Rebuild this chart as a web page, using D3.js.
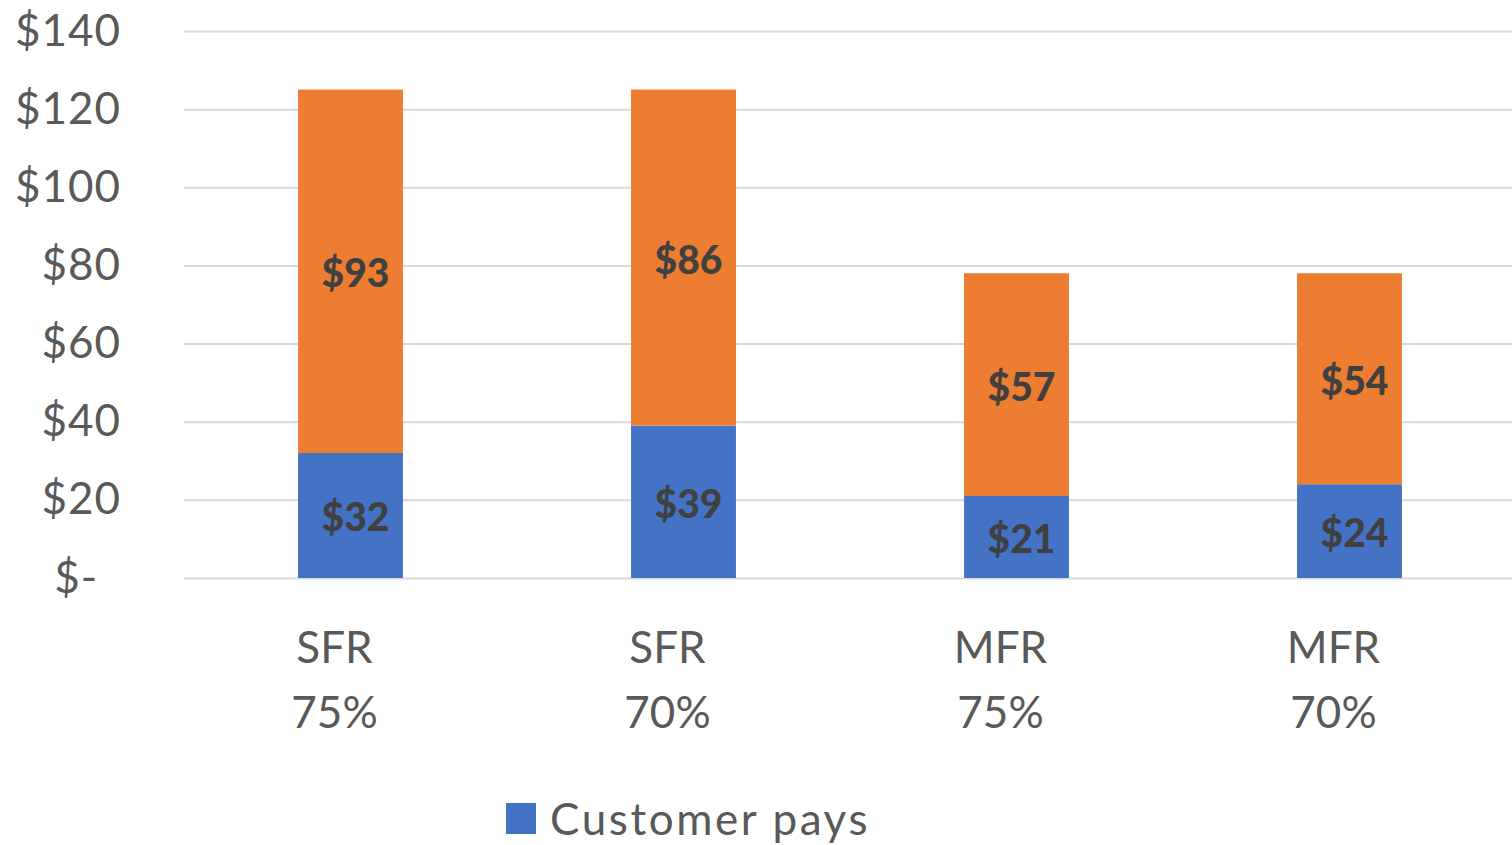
<!DOCTYPE html>
<html>
<head>
<meta charset="utf-8">
<script src="https://cdn.jsdelivr.net/npm/d3@7"></script>
<style>
  html, body { margin: 0; padding: 0; background: #fff; }
  svg { display: block; font-family: Lato, "Open Sans", sans-serif; }
</style>
</head>
<body>
<svg id="chart" width="1512" height="845"></svg>
<script>
// chart data
const categories = ["SFR 75%", "SFR 70%", "MFR 75%", "MFR 70%"];
const categoryLines = [["SFR", "75%"], ["SFR", "70%"], ["MFR", "75%"], ["MFR", "70%"]];
const customerPays = [32, 39, 21, 24];
const utilityPays = [93, 86, 57, 54];
const yTicks = [0, 20, 40, 60, 80, 100, 120, 140];
const yTickLabels = ["$-", "$20", "$40", "$60", "$80", "$100", "$120", "$140"];

const svg = d3.select("#chart");

const plotLeft = 184, plotRight = 1516, plotTop = 31, plotBottom = 578;

const x = d3.scaleBand()
    .domain(categories)
    .range([plotLeft, plotRight])
    .paddingInner(0.685)
    .paddingOuter(0.3425);

const y = d3.scaleLinear()
    .domain([0, 140])
    .range([plotBottom, plotTop]);

// y axis with gridlines
const yAxis = svg.append("g")
    .attr("transform", `translate(${plotLeft},0)`)
    .call(d3.axisLeft(y)
        .tickValues(yTicks)
        .tickSizeInner(-(1512 - plotLeft))
        .tickSizeOuter(0)
        .tickPadding(63)
        .tickFormat((d, i) => yTickLabels[i]));

yAxis.select(".domain").remove();
yAxis.selectAll(".tick line")
    .attr("stroke", "#d9d9d9")
    .attr("stroke-width", 2);
yAxis.selectAll(".tick text")
    .attr("fill", "#595959")
    .attr("font-size", "44px")
    .attr("letter-spacing", "1px")
    .attr("font-family", "Lato, sans-serif");
// accounting format zero label sits a bit left
yAxis.selectAll(".tick text").filter(d => d === 0).attr("x", -86);

// stacked series
const rows = categories.map((c, i) => ({ cat: c, customer: customerPays[i], utility: utilityPays[i] }));
const stack = d3.stack().keys(["customer", "utility"]);
const series = stack(rows);
const colors = { customer: "#4472C4", utility: "#ED7D31" };

const layers = svg.append("g").selectAll("g")
    .data(series)
    .join("g")
    .attr("fill", d => colors[d.key]);

layers.selectAll("rect")
    .data(d => d)
    .join("rect")
    .attr("x", d => x(d.data.cat))
    .attr("width", x.bandwidth())
    .attr("y", d => y(d[1]))
    .attr("height", d => y(d[0]) - y(d[1]));

// data labels
layers.selectAll("text")
    .data(d => d)
    .join("text")
    .attr("x", d => x(d.data.cat) + x.bandwidth() / 2 + 5)
    .attr("y", d => (y(d[0]) + y(d[1])) / 2 + 16)
    .attr("text-anchor", "middle")
    .attr("fill", "#404040")
    .attr("font-weight", "900")
    .attr("font-size", "39px")
    .text(d => "$" + (d[1] - d[0]));

// category labels (two lines)
const catLabels = svg.append("g").selectAll("text")
    .data(categories)
    .join("text")
    .attr("text-anchor", "middle")
    .attr("fill", "#595959")
    .attr("font-size", "44px");

catLabels.selectAll("tspan")
    .data((d, i) => categoryLines[i].map(t => ({ t, cat: d })))
    .join("tspan")
    .attr("x", d => x(d.cat) + x.bandwidth() / 2 - 16)
    .attr("y", (d, j) => 663 + j * 65)
    .text(d => d.t);

// legend
const legend = svg.append("g").attr("transform", "translate(506,803)");
legend.append("rect")
    .attr("width", 30)
    .attr("height", 31)
    .attr("fill", colors.customer);
legend.append("text")
    .attr("x", 44)
    .attr("y", 32)
    .attr("fill", "#595959")
    .attr("font-size", "44px")
    .attr("letter-spacing", "2.6px")
    .text("Customer pays");
</script>
</body>
</html>
